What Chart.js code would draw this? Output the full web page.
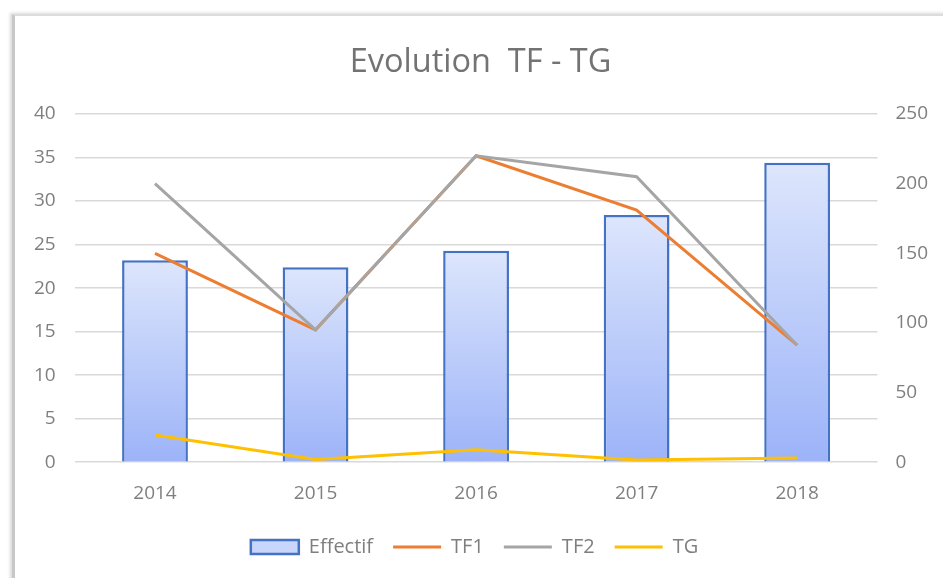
<!DOCTYPE html>
<html>
<head>
<meta charset="utf-8">
<script src="https://cdn.jsdelivr.net/npm/chart.js@4.4.0/dist/chart.umd.min.js"></script>
<style>
  html, body { margin: 0; padding: 0; background: #fff; overflow: hidden; }
  body { width: 943px; height: 578px; position: relative; }
  #box {
    position: absolute; left: 12px; top: 14px; width: 945px; height: 570px;
    border-left: 3px solid #c8c8c8; border-top: 2px solid #dcdcdc;
    box-shadow: -2px -1px 3px rgba(0,0,0,0.15);
    background: #fff;
  }
  canvas { display: block; }
</style>
</head>
<body>
<div id="box"><canvas id="chart" width="945" height="562"></canvas></div>
<script>
const annees = ['2014', '2015', '2016', '2017', '2018'];
const effectif = [23.2, 22.4, 24.3, 28.4, 34.4];
const tf1 = [150, 95, 220, 181, 84];
const tf2 = [200, 95, 220, 205, 84];
const tg = [19.5, 2, 9, 1.5, 3];

const police = "'Open Sans', 'Noto Sans', sans-serif";
const gris = '#7f7f7f';

// degrade vertical par barre, clair en haut, plus fonce en bas
function degrade(context) {
  const chart = context.chart;
  const area = chart.chartArea;
  if (!area || context.dataIndex === undefined) return '#c5d3fb';
  const y = chart.scales.y;
  const haut = y.getPixelForValue(effectif[context.dataIndex]);
  const bas = y.getPixelForValue(0);
  const g = chart.ctx.createLinearGradient(0, haut, 0, bas);
  g.addColorStop(0, '#dde6fc');
  g.addColorStop(1, '#9cb3f8');
  return g;
}

// la legende d'Excel est un peu decalee vers la gauche
const decaleLegende = {
  id: 'decaleLegende',
  afterLayout(chart) {
    if (chart.legend) {
      chart.legend.left -= 6;
      chart.legend.right -= 6;
    }
  }
};

const ordreLegende = ['Effectif', 'TF1', 'TF2', 'TG'];
const ctx = document.getElementById('chart');

new Chart(ctx, {
  data: {
    labels: annees,
    datasets: [
      {
        type: 'line', label: 'TF1', data: tf1, yAxisID: 'y2',
        borderColor: '#ed7d31', backgroundColor: '#ed7d31',
        borderWidth: 3, pointRadius: 0, tension: 0, order: 2
      },
      {
        type: 'line', label: 'TF2', data: tf2, yAxisID: 'y2',
        borderColor: '#a5a5a5', backgroundColor: '#a5a5a5',
        borderWidth: 3, pointRadius: 0, tension: 0, order: 1
      },
      {
        type: 'line', label: 'TG', data: tg, yAxisID: 'y2',
        borderColor: '#ffc000', backgroundColor: '#ffc000',
        borderWidth: 3, pointRadius: 0, tension: 0, order: 0
      },
      {
        type: 'bar', label: 'Effectif', data: effectif, yAxisID: 'y',
        backgroundColor: degrade, borderColor: '#4472c4', borderWidth: 2.5,
        categoryPercentage: 1, barPercentage: 0.41, order: 3
      }
    ]
  },
  plugins: [decaleLegende],
  options: {
    responsive: false,
    animation: false,
    layout: { padding: { left: 0, right: 14, top: 8, bottom: 11 } },
    plugins: {
      title: {
        display: true, text: 'Evolution  TF - TG', color: '#737373',
        font: { family: police, size: 32.5, weight: 'normal' },
        padding: { top: 19, bottom: 32 }
      },
      legend: {
        position: 'bottom',
        labels: {
          color: gris,
          font: { family: police, size: 20 },
          usePointStyle: true,
          pointStyleWidth: 48,
          boxHeight: 14,
          padding: 20,
          sort: (a, b) => ordreLegende.indexOf(a.text) - ordreLegende.indexOf(b.text),
          generateLabels: (chart) => {
            const items = Chart.defaults.plugins.legend.labels.generateLabels(chart);
            items.forEach(it => {
              const ds = chart.data.datasets[it.datasetIndex];
              if (ds.type === 'line') {
                it.pointStyle = 'line';
                it.lineWidth = 3;
                it.strokeStyle = ds.borderColor;
              } else {
                it.pointStyle = 'rect';
                it.fillStyle = '#c9d6fb';
                it.strokeStyle = '#4472c4';
                it.lineWidth = 2.5;
              }
            });
            return items;
          }
        }
      },
      tooltip: { enabled: false }
    },
    scales: {
      x: {
        grid: { display: false },
        border: { display: false },
        ticks: { color: gris, font: { family: police, size: 19 }, padding: 12 }
      },
      y: {
        position: 'left', min: 0, max: 40,
        grid: { color: '#d9d9d9', lineWidth: 1.5, drawTicks: false },
        border: { display: false },
        ticks: { stepSize: 5, color: gris, font: { family: police, size: 19 }, padding: 19 }
      },
      y2: {
        position: 'right', min: 0, max: 250,
        grid: { display: false, drawTicks: false },
        border: { display: false },
        ticks: { stepSize: 50, color: gris, font: { family: police, size: 19 }, padding: 18 }
      }
    }
  }
});
</script>
</body>
</html>
